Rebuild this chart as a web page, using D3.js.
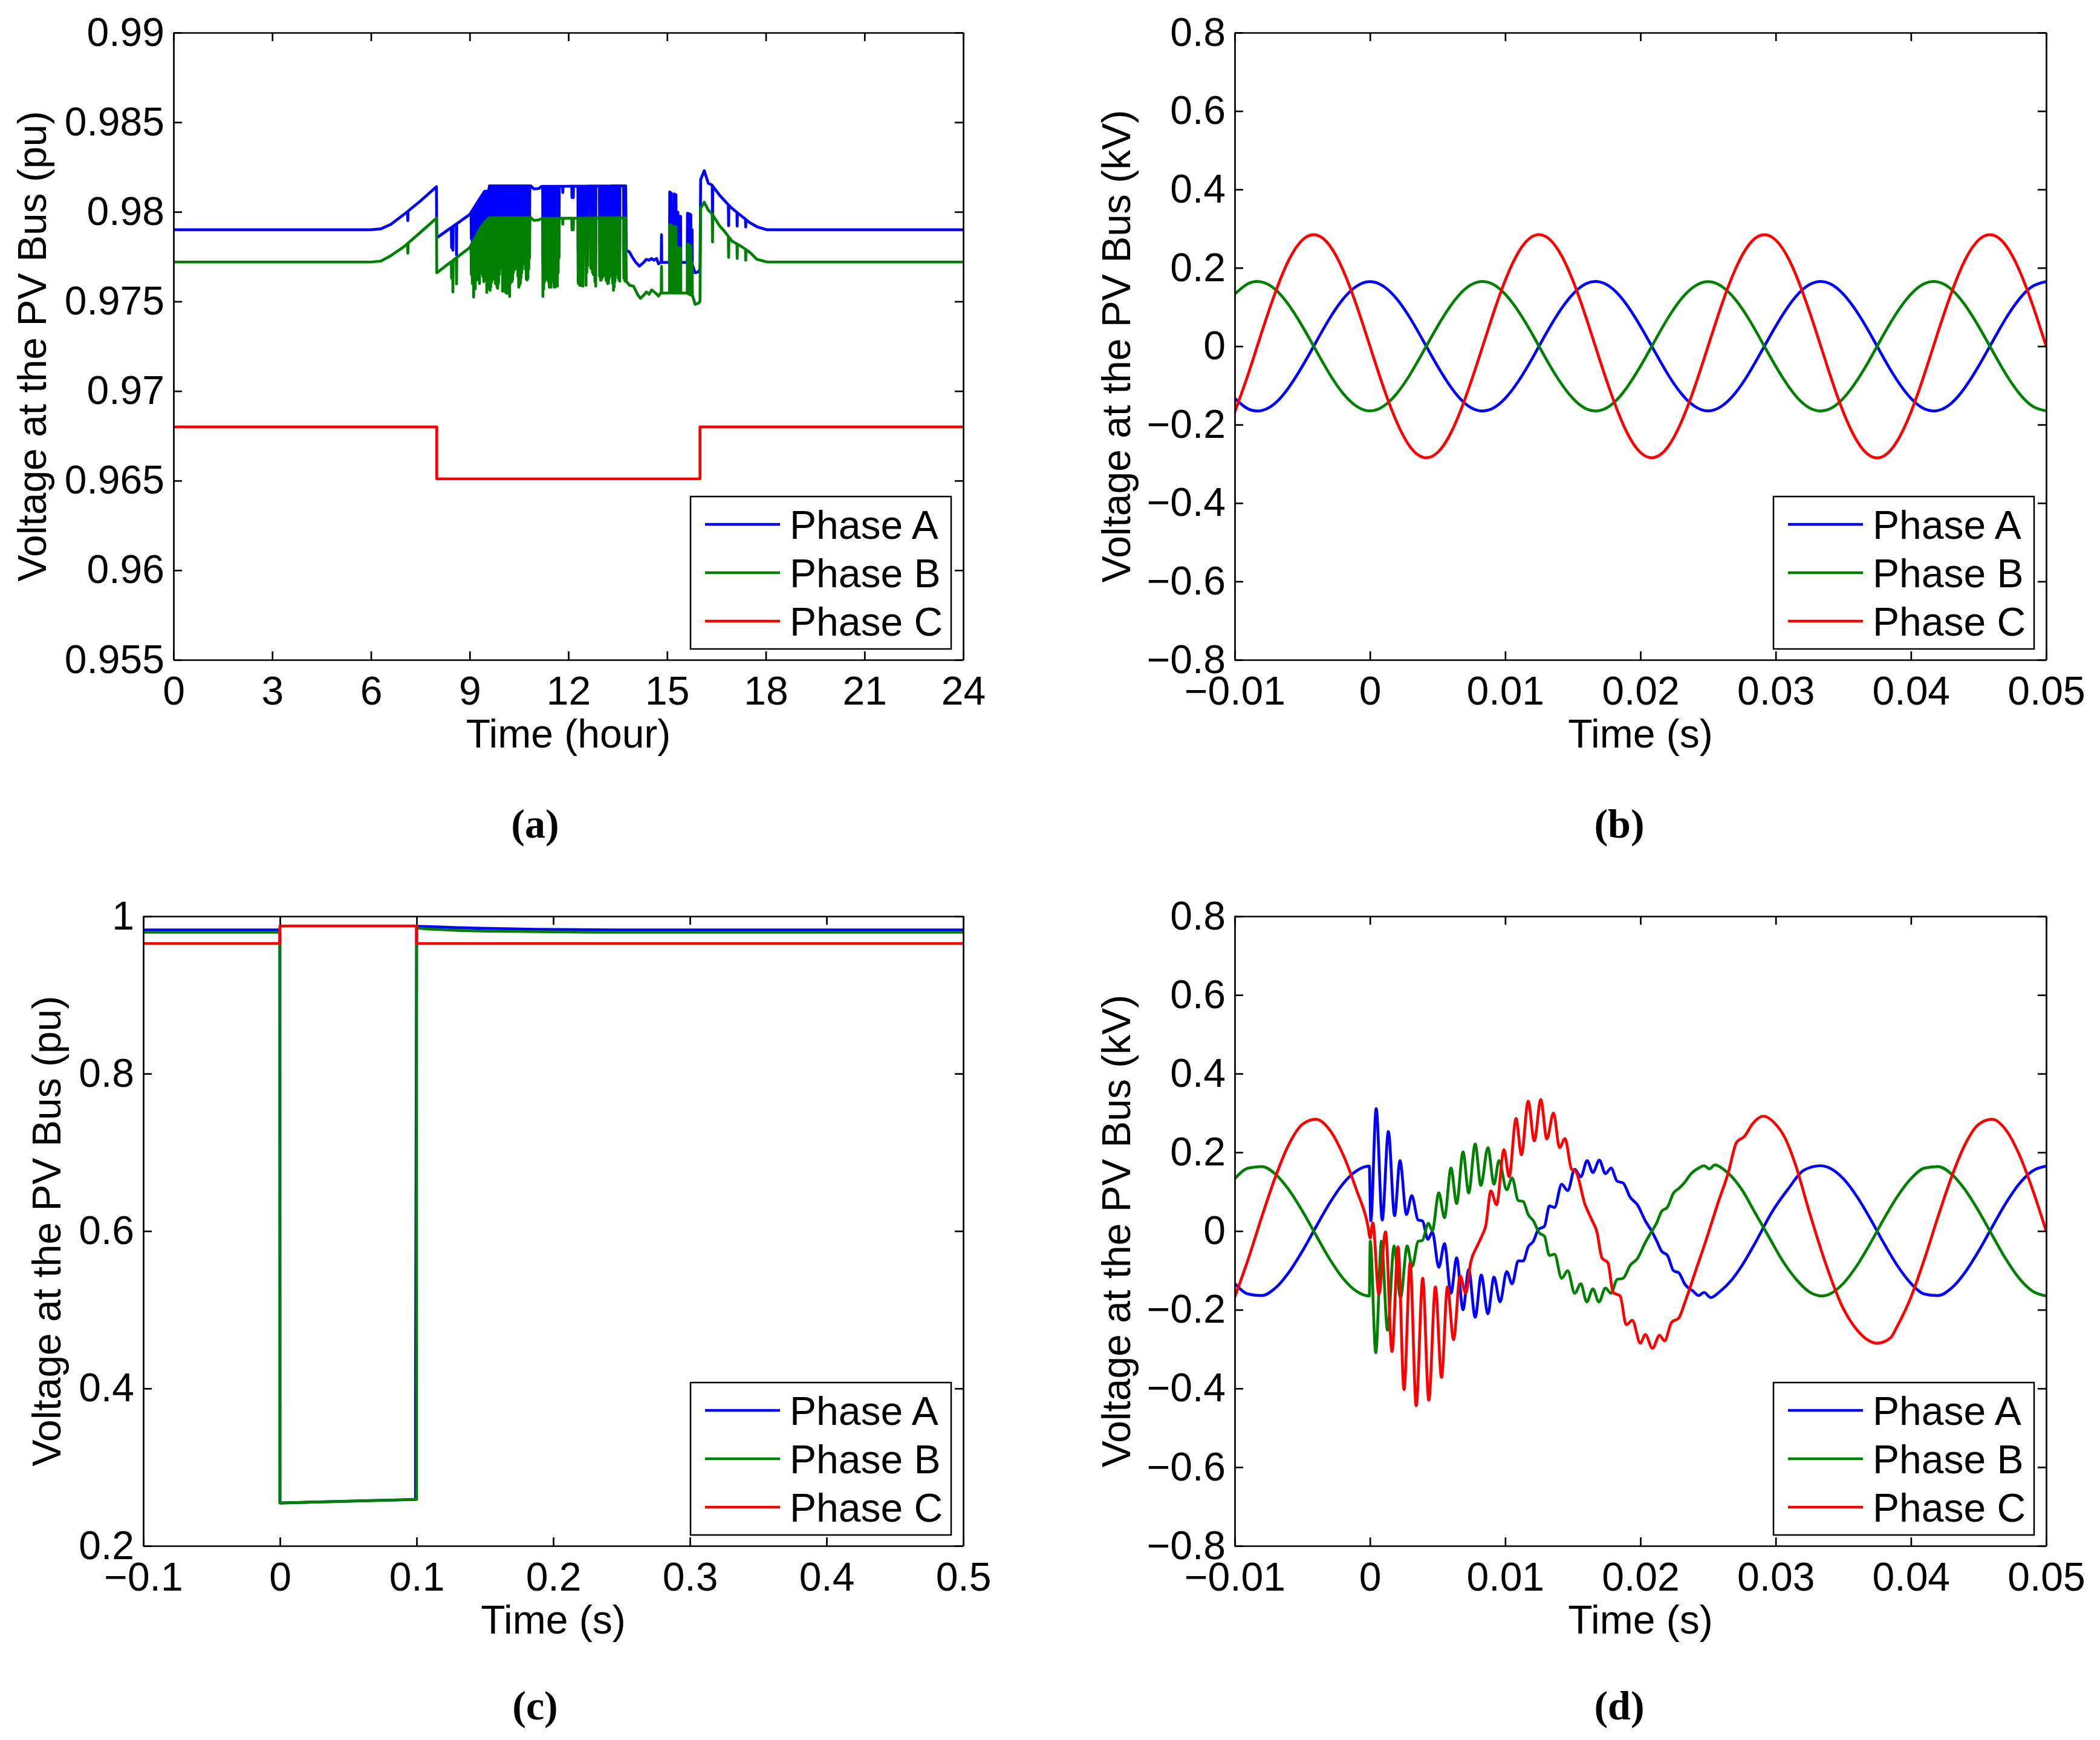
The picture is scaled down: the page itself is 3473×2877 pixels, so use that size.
<!DOCTYPE html>
<html>
<head>
<meta charset="utf-8">
<script src="https://cdn.jsdelivr.net/npm/d3@7"></script>
<style>
body { margin: 0; background: #fff; }
</style>
</head>
<body>
<script>
// ---------- (a) daily voltage, hours vs pu ----------
var hourTicks = [0, 3, 6, 9, 12, 15, 18, 21, 24];
var hourLabels = ["0", "3", "6", "9", "12", "15", "18", "21", "24"];
var puTicksA = [0.955, 0.96, 0.965, 0.97, 0.975, 0.98, 0.985, 0.99];
var puLabelsA = ["0.955", "0.96", "0.965", "0.97", "0.975", "0.98", "0.985", "0.99"];

// smooth part of each phase [hour, pu]
var dayBaseA = [[0,0.979],[6.0,0.979],[6.3,0.97905],[6.6,0.9793],[7.0,0.97985],[7.5,0.9806],[7.99,0.9814],
  [8.0,0.97855],[8.5,0.9792],[9.0,0.97985],[9.33,0.9808],[9.45,0.98114],[9.58,0.98118],[9.6,0.98145],
  [10.86,0.98145],[10.95,0.98128],[11.1,0.9813],[11.19,0.98142],[13.74,0.98145],[13.76,0.97787],
  [13.86,0.97775],[13.92,0.97754],[14.04,0.9772],[14.16,0.97697],[14.29,0.97718],[14.37,0.97735],
  [14.45,0.9773],[14.53,0.9774],[14.6,0.9773],[14.68,0.9774],[14.74,0.9771],[14.8,0.97718],[15.6,0.97718],
  [15.78,0.977],[15.85,0.9766],[15.95,0.97665],[16.0,0.9768],[16.02,0.9818],[16.13,0.9823],[16.25,0.9816],
  [16.36,0.9815],[16.59,0.98094],[16.82,0.98048],[16.97,0.9802],[17.24,0.9798],[17.51,0.9794],
  [17.73,0.97917],[18.04,0.979],[24,0.979]];
var dayBaseB = [[0,0.9772],[6.0,0.9772],[6.3,0.97725],[6.6,0.97755],[7.0,0.97805],[7.5,0.97885],[7.99,0.97965],
  [8.0,0.9766],[8.5,0.9773],[9.0,0.978],[9.33,0.9791],[9.45,0.9794],[9.6,0.97967],[10.86,0.97967],
  [10.95,0.97952],[11.1,0.97955],[11.19,0.97963],[13.74,0.97967],[13.76,0.97613],[13.86,0.9759],
  [13.98,0.97585],[14.1,0.9754],[14.19,0.97517],[14.29,0.97535],[14.37,0.97553],[14.45,0.9754],
  [14.53,0.97564],[14.65,0.97547],[14.74,0.9753],[14.8,0.97547],[15.6,0.97547],[15.78,0.9753],
  [15.85,0.97484],[15.95,0.9749],[16.0,0.975],[16.02,0.9802],[16.13,0.98054],[16.25,0.9801],
  [16.36,0.97991],[16.59,0.97923],[16.75,0.9789],[16.97,0.97837],[17.24,0.97809],[17.51,0.97775],
  [17.73,0.97735],[18.04,0.9772],[24,0.9772]];
var dayBaseC = [[0,0.968],[8.0,0.968],[8.0,0.9651],[16.0,0.9651],[16.0,0.968],[24,0.968]];

// short cloud spikes: [hour, phase A pu, phase B pu]
var daySpikes = [[7.12,0.97951,0.97769],
  [8.45,0.978,0.9763],[8.49,0.97786,0.97553],[8.6,0.9776,0.97598],[9.05,0.9785,0.9765],[9.08,0.9779,0.976],
  [9.12,0.9777,0.97524],[9.17,0.978,0.9757],[9.22,0.9783,0.9762],[9.27,0.9786,0.9766],[9.3,0.9782,0.976],
  [9.35,0.9786,0.9766],[9.4,0.9785,0.9764],[9.43,0.9783,0.9761],[9.47,0.9784,0.9762],[9.52,0.9781,0.9755],
  [9.56,0.9782,0.9757],
  [9.62,0.9774,0.97562],[9.64,0.9776,0.9758],[9.665,0.9779,0.97607],[9.687,0.978,0.9762],[9.71,0.9781,0.9763],
  [9.733,0.9782,0.9765],[9.756,0.9784,0.97658],[9.78,0.978,0.976],[9.805,0.9778,0.97596],[9.83,0.9777,0.9758],
  [9.854,0.9776,0.97573],[9.878,0.9779,0.976],[9.903,0.9783,0.97652],[9.925,0.9786,0.9768],[10.0,0.9774,0.97557],
  [10.022,0.9775,0.9756],[10.044,0.9778,0.976],[10.065,0.9776,0.9758],[10.087,0.9773,0.97551],[10.108,0.9774,0.9755],
  [10.13,0.9772,0.97545],[10.15,0.9775,0.9756],[10.17,0.9778,0.976],[10.193,0.9776,0.9757],[10.215,0.9771,0.97528],
  [10.236,0.9778,0.976],[10.258,0.978,0.97618],[10.282,0.9779,0.9761],[10.307,0.978,0.97624],[10.33,0.9783,0.9766],
  [10.356,0.9785,0.97675],[10.378,0.9786,0.9768],[10.4,0.9787,0.97686],[10.42,0.9788,0.977],[10.44,0.9789,0.97708],
  [10.465,0.9782,0.9764],[10.49,0.9776,0.97579],[10.515,0.9777,0.9759],[10.54,0.9778,0.97602],[10.56,0.9781,0.9763],
  [10.58,0.9784,0.97658],[10.6,0.9786,0.9768],[10.625,0.9789,0.97708],[10.65,0.979,0.9772],[10.675,0.9792,0.97742],
  [10.697,0.9786,0.9768],[10.72,0.978,0.97624],[10.745,0.978,0.9762],[10.77,0.9781,0.9763],[10.795,0.9786,0.9768],
  [10.82,0.9792,0.97742],
  [11.226,0.9771,0.97528],[11.25,0.9775,0.9757],[11.275,0.9779,0.97607],[11.297,0.9779,0.9762],[11.32,0.978,0.97624],
  [11.345,0.978,0.9763],[11.37,0.9781,0.97635],[11.395,0.9779,0.9761],[11.42,0.9776,0.97579],[11.445,0.9776,0.9758],
  [11.47,0.9777,0.9758],[11.495,0.978,0.9762],[11.52,0.9782,0.9764],[11.545,0.9779,0.9761],[11.57,0.9776,0.97579],
  [11.595,0.9776,0.9758],[11.62,0.9777,0.9759],[11.643,0.9777,0.9759],[11.666,0.9776,0.97585],[11.69,0.9785,0.9766],
  [11.715,0.9792,0.97742],
  [11.83,0.98108,0.97931],[12.11,0.9808,0.979],[12.15,0.9808,0.979],
  [12.297,0.9778,0.97602],[12.318,0.9777,0.976],[12.34,0.9777,0.9759],[12.365,0.9778,0.9759],[12.39,0.9778,0.97597],
  [12.415,0.9777,0.9759],[12.44,0.9777,0.97585],[12.535,0.9777,0.9759],[12.56,0.9784,0.9766],[12.584,0.9788,0.97697],
  [12.68,0.9787,0.97686],[12.705,0.9786,0.9768],[12.73,0.9785,0.97663],[12.755,0.9784,0.9765],[12.78,0.9784,0.9765],
  [12.805,0.978,0.9761],[12.83,0.9777,0.97585],[12.95,0.9782,0.9764],[12.976,0.978,0.97618],[13.0,0.978,0.9762],
  [13.025,0.9781,0.9763],[13.048,0.9782,0.9764],[13.07,0.9783,0.9765],[13.095,0.9783,0.9765],[13.12,0.9783,0.97645],
  [13.145,0.978,0.9762],[13.17,0.9779,0.9761],[13.195,0.9778,0.976],[13.22,0.9778,0.97602],[13.245,0.9781,0.9763],
  [13.27,0.9784,0.9765],[13.295,0.9784,0.9765],[13.32,0.9783,0.97645],[13.345,0.9778,0.976],[13.37,0.9774,0.97562],
  [13.393,0.9776,0.9758],[13.417,0.9779,0.9761],[13.44,0.9784,0.9766],[13.466,0.9787,0.97686],[13.49,0.9783,0.9765],
  [13.515,0.9781,0.9763],[13.537,0.978,0.9762],[13.56,0.9779,0.97613],[13.686,0.97787,0.9763],[13.705,0.9781,0.9762],
  [13.725,0.9779,0.97613],
  [14.83,0.97872,0.97695],[15.08,0.98111,0.97928],[15.13,0.98105,0.97925],[15.22,0.981,0.9792],[15.27,0.98095,0.97915],
  [15.33,0.97998,0.97803],[15.41,0.97975,0.97798],[15.62,0.97992,0.9782],[15.67,0.9799,0.97818],[15.72,0.97985,0.9781],
  [15.76,0.979,0.9772],[16.38,0.97914,0.97832],[16.87,0.97923,0.97746],[17.13,0.9792,0.9774],[17.39,0.97915,0.9773]];

// ---------- (b) steady waveform, ms vs kV (one sample per ms from -10 to 50) ----------
var waveTicks = [-0.01, 0, 0.01, 0.02, 0.03, 0.04, 0.05];
var waveLabels = ["\u22120.01", "0", "0.01", "0.02", "0.03", "0.04", "0.05"];
var kvTicks = [-0.8, -0.6, -0.4, -0.2, 0, 0.2, 0.4, 0.6, 0.8];
var kvLabels = ["\u22120.8", "\u22120.6", "\u22120.4", "\u22120.2", "0", "0.2", "0.4", "0.6", "0.8"];
var steadyMs = d3.range(-10, 51);
var steadyA = [-0.133,-0.160,-0.164,-0.145,-0.105,-0.051,0.010,0.070,0.120,0.153,0.165,
  0.153,0.120,0.070,0.010,-0.051,-0.105,-0.145,-0.164,-0.160,-0.133,-0.088,-0.031,0.031,0.088,0.133,0.160,0.164,0.145,0.105,0.051,-0.010,-0.070,-0.120,-0.153,-0.165,
  -0.153,-0.120,-0.070,-0.010,0.051,0.105,0.145,0.164,0.160,0.133,0.088,0.031,-0.031,-0.088,-0.133,-0.160,-0.164,-0.145,-0.105,-0.051,0.010,0.070,0.120,0.153,0.165];
var steadyB = [0.133,0.160,0.164,0.145,0.105,0.051,-0.010,-0.070,-0.120,-0.153,-0.165,
  -0.153,-0.120,-0.070,-0.010,0.051,0.105,0.145,0.164,0.160,0.133,0.088,0.031,-0.031,-0.088,-0.133,-0.160,-0.164,-0.145,-0.105,-0.051,0.010,0.070,0.120,0.153,0.165,
  0.153,0.120,0.070,0.010,-0.051,-0.105,-0.145,-0.164,-0.160,-0.133,-0.088,-0.031,0.031,0.088,0.133,0.160,0.164,0.145,0.105,0.051,-0.010,-0.070,-0.120,-0.153,-0.165];
var steadyC = [-0.168,-0.071,0.036,0.137,0.220,0.271,0.284,0.258,0.195,0.105,0.000,
  -0.105,-0.195,-0.258,-0.284,-0.271,-0.220,-0.137,-0.036,0.071,0.168,0.241,0.280,0.280,0.241,0.168,0.071,-0.036,-0.137,-0.220,-0.271,-0.284,-0.258,-0.195,-0.105,0.000,
  0.105,0.195,0.258,0.284,0.271,0.220,0.137,0.036,-0.071,-0.168,-0.241,-0.280,-0.280,-0.241,-0.168,-0.071,0.036,0.137,0.220,0.271,0.284,0.258,0.195,0.105,0.000];

// ---------- (c) fault, seconds vs pu ----------
var faultTicks = [-0.1, 0, 0.1, 0.2, 0.3, 0.4, 0.5];
var faultLabels = ["\u22120.1", "0", "0.1", "0.2", "0.3", "0.4", "0.5"];
var puTicksC = [0.2, 0.4, 0.6, 0.8, 1];
var puLabelsC = ["0.2", "0.4", "0.6", "0.8", "1"];
var faultA = [[-0.1,0.9826],[-0.0001,0.9826],[0,0.2545],[0.0992,0.259],[0.0992,0.396],[0.1,0.9872],[0.115,0.9864],
  [0.127,0.9857],[0.143,0.9849],[0.165,0.9841],[0.187,0.9834],[0.248,0.9826],[0.5,0.9826]];
var faultB = [[-0.1,0.9798],[0,0.9798],[0,0.2545],[0.1,0.259],[0.1,0.9852],[0.107,0.9839],[0.119,0.9829],
  [0.134,0.9818],[0.152,0.9811],[0.179,0.9806],[0.229,0.9798],[0.5,0.9798]];
var faultC = [[-0.1,0.9654],[0,0.9654],[0,0.9877],[0.1,0.9877],[0.1,0.9654],[0.5,0.9654]];

// ---------- (d) transient waveform, [ms, kV] ----------
var transA = [[-10,-0.133],[-9,-0.160],[-8,-0.164],[-7,-0.145],[-6,-0.105],[-5,-0.051],[-4,0.010],[-3,0.070],[-2,0.120],[-1,0.153],[-0.05,0.165],
  [0.06,0.026],[0.46,0.311],[0.91,0.028],[1.36,0.253],[1.82,0.039],[2.22,0.179],[2.70,0.042],[3.09,0.090],[3.57,0.028],[3.87,0.026],
  [4.29,-0.021],[4.61,-0.002],[5.09,-0.092],[5.51,-0.032],[5.99,-0.158],[6.41,-0.068],[6.88,-0.200],[7.30,-0.098],[7.78,-0.219],
  [8.23,-0.112],[8.72,-0.210],[9.17,-0.117],[9.62,-0.180],[10.11,-0.103],[10.51,-0.134],[10.96,-0.076],[11.33,-0.076],[11.7,-0.040],
  [12.08,-0.026],[12.45,0.004],[12.9,0.012],[13.27,0.064],[13.65,0.060],[14.17,0.119],[14.62,0.103],[15.14,0.157],[15.59,0.138],
  [16.06,0.179],[16.48,0.149],[16.96,0.180],[17.41,0.146],[17.83,0.160],[18.27,0.127],[18.72,0.122],[19.24,0.086],[19.77,0.067],
  [20.36,0.026],[20.81,0.001],[21.19,-0.024],[21.56,-0.051],[22.0,-0.062],[22.45,-0.101],[22.83,-0.106],[23.3,-0.136],[23.9,-0.153],
  [24.3,-0.164],[24.7,-0.156],[25.2,-0.169],[25.9,-0.153],[26.7,-0.126],[27.5,-0.088],[28.5,-0.029],[29.7,0.047],[30.9,0.106],
  [32.1,0.155],[33.3,0.166],[34,0.160],[35,0.133],[36,0.088],[37,0.031],[38,-0.031],[39,-0.088],[40,-0.133],[41,-0.160],[42,-0.164],
  [43,-0.145],[44,-0.105],[45,-0.051],[46,0.010],[47,0.070],[48,0.120],[49,0.153],[50,0.165]];
var transB = [[-10,0.133],[-9,0.160],[-8,0.164],[-7,0.145],[-6,0.105],[-5,0.051],[-4,-0.010],[-3,-0.070],[-2,-0.120],[-1,-0.153],[-0.05,-0.165],
  [0.02,-0.026],[0.43,-0.309],[0.85,-0.026],[1.30,-0.252],[1.78,-0.038],[2.26,-0.169],[2.75,-0.038],[3.12,-0.090],[3.57,-0.026],[3.87,-0.024],
  [4.32,0.020],[4.61,0.001],[5.09,0.097],[5.51,0.034],[5.99,0.160],[6.41,0.070],[6.88,0.201],[7.30,0.097],[7.78,0.221],[8.20,0.116],
  [8.72,0.212],[9.17,0.119],[9.54,0.179],[10.11,0.105],[10.51,0.135],[10.96,0.078],[11.33,0.075],[11.7,0.042],[12.08,0.026],
  [12.53,-0.005],[12.9,-0.013],[13.27,-0.062],[13.65,-0.059],[14.17,-0.120],[14.62,-0.101],[15.14,-0.158],[15.59,-0.134],
  [16.03,-0.180],[16.48,-0.147],[16.93,-0.180],[17.41,-0.145],[17.83,-0.158],[18.27,-0.123],[18.72,-0.120],[19.24,-0.087],
  [19.77,-0.070],[20.36,-0.029],[20.81,-0.002],[21.19,0.020],[21.56,0.050],[22.0,0.061],[22.45,0.097],[22.83,0.108],[23.3,0.125],
  [23.7,0.144],[24.3,0.160],[24.7,0.166],[25.1,0.158],[25.5,0.168],[26.1,0.158],[26.7,0.140],[27.5,0.105],[28.5,0.045],[29.5,-0.015],
  [30.5,-0.075],[31.5,-0.122],[32.5,-0.155],[33.4,-0.165],[34,-0.160],[35,-0.133],[36,-0.088],[37,-0.031],[38,0.031],[39,0.088],
  [40,0.133],[41,0.160],[42,0.164],[43,0.145],[44,0.105],[45,0.051],[46,-0.010],[47,-0.070],[48,-0.120],[49,-0.153],[50,-0.165]];
var transC = [[-10,-0.168],[-9,-0.071],[-8,0.036],[-7,0.137],[-6,0.220],[-5,0.271],[-4,0.284],[-3,0.258],[-2,0.195],[-1,0.105],[-0.16,0.015],
  [0.02,-0.018],[0.21,0.021],[0.66,-0.161],[1.15,-0.002],[1.63,-0.306],[2.08,-0.040],[2.52,-0.403],[2.97,-0.081],[3.42,-0.444],
  [3.90,-0.120],[4.35,-0.430],[4.84,-0.142],[5.29,-0.372],[5.73,-0.142],[6.18,-0.276],[6.67,-0.114],[7.08,-0.158],[7.45,-0.079],
  [7.90,-0.040],[8.27,-0.013],[8.57,0.015],[8.94,0.102],[9.36,0.067],[9.91,0.207],[10.29,0.138],[10.80,0.286],[11.2,0.194],
  [11.70,0.330],[12.15,0.229],[12.63,0.334],[13.08,0.234],[13.57,0.300],[14.02,0.212],[14.42,0.235],[14.91,0.157],[15.21,0.152],
  [15.88,0.070],[16.41,0.028],[16.78,-0.002],[17.15,-0.068],[17.60,-0.081],[17.98,-0.156],[18.5,-0.165],[18.95,-0.238],[19.4,-0.227],
  [19.99,-0.285],[20.36,-0.263],[20.89,-0.298],[21.41,-0.265],[21.78,-0.279],[22.3,-0.232],[22.83,-0.221],[23.3,-0.180],[24.1,-0.099],
  [24.9,-0.018],[25.7,0.068],[26.5,0.149],[27.1,0.225],[27.7,0.241],[28.3,0.273],[29.1,0.292],[29.9,0.275],[30.7,0.236],[31.5,0.165],
  [32.5,0.047],[33.7,-0.083],[34.9,-0.190],[36.1,-0.255],[37.5,-0.285],[38.5,-0.271],[39,-0.241],[40,-0.168],[41,-0.071],[42,0.036],
  [43,0.137],[44,0.220],[45,0.271],[46,0.284],[47,0.258],[48,0.195],[49,0.105],[50,0.000]];

var phaseNames = ["Phase A", "Phase B", "Phase C"];
var phaseColors = ["#0000ff", "#008000", "#ff0000"];

// ---------- helpers ----------
var font = "Liberation Sans, Arial, Helvetica, sans-serif";
var fontSize = 66;

function withSpikes(base, spikes, col) {
  var top = d3.scaleLinear().domain(base.map(function (d) { return d[0]; }))
                            .range(base.map(function (d) { return d[1]; }));
  var pts = base.slice();
  spikes.forEach(function (s) {
    pts.push([s[0] - 0.008, top(s[0] - 0.008)], [s[0], s[col]], [s[0] + 0.008, top(s[0] + 0.008)]);
  });
  pts.sort(function (a, b) { return a[0] - b[0]; });
  return pts;
}
function msPairs(ms, vals) { return ms.map(function (t, i) { return [t / 1000, vals[i]]; }); }
function msToSec(pairs) { return pairs.map(function (d) { return [d[0] / 1000, d[1]]; }); }

var svg = d3.select("body").append("svg")
            .attr("width", 3473)
            .attr("height", 2877)
            .style("background", "#fff");

function drawPanel(p) {
  var w = p.right - p.left, h = p.bottom - p.top;
  var x = d3.scaleLinear().domain(p.xDomain).range([0, w]);
  var y = d3.scaleLinear().domain(p.yDomain).range([h, 0]);
  var g = svg.append("g").attr("transform", "translate(" + p.left + "," + p.top + ")");

  g.append("clipPath").attr("id", "clip-" + p.key)
   .append("rect").attr("width", w).attr("height", h);

  var line = d3.line()
               .x(function (d) { return x(d[0]); })
               .y(function (d) { return y(d[1]); })
               .curve(p.curve);
  g.append("g").attr("clip-path", "url(#clip-" + p.key + ")")
   .selectAll("path").data(p.series).enter().append("path")
   .attr("d", line)
   .attr("fill", "none")
   .attr("stroke", function (d, i) { return phaseColors[i]; })
   .attr("stroke-width", 4.7)
   .attr("stroke-linejoin", "round");

  var tick = 14;
  g.append("g").attr("transform", "translate(0," + h + ")")
   .call(d3.axisBottom(x).tickValues(p.xTicks).tickFormat(function (d, i) { return p.xLabels[i]; })
           .tickSizeInner(-tick).tickSizeOuter(0).tickPadding(27));
  g.append("g")
   .call(d3.axisTop(x).tickValues(p.xTicks).tickFormat("").tickSizeInner(-tick).tickSizeOuter(0));
  g.append("g")
   .call(d3.axisLeft(y).tickValues(p.yTicks).tickFormat(function (d, i) { return p.yLabels[i]; })
           .tickSizeInner(-tick).tickSizeOuter(0).tickPadding(15));
  g.append("g").attr("transform", "translate(" + w + ",0)")
   .call(d3.axisRight(y).tickValues(p.yTicks).tickFormat("").tickSizeInner(-tick).tickSizeOuter(0));

  g.selectAll(".domain, .tick line").attr("stroke", "#000").attr("stroke-width", 2.7);
  g.selectAll(".tick text").attr("font-family", font).attr("font-size", fontSize).attr("fill", "#000");

  g.append("text")
   .attr("x", w / 2).attr("y", h + 145)
   .attr("text-anchor", "middle")
   .attr("font-family", font).attr("font-size", fontSize)
   .text(p.xTitle);
  g.append("text")
   .attr("transform", "translate(" + (p.yTitleX - p.left) + "," + (h / 2) + ") rotate(-90)")
   .attr("text-anchor", "middle")
   .attr("font-family", font).attr("font-size", fontSize)
   .text(p.yTitle);

  // legend, bottom right
  var lw = 431, lh = 252;
  var lg = g.append("g").attr("transform", "translate(" + (w - 20 - lw) + "," + (h - 18 - lh) + ")");
  lg.append("rect").attr("width", lw).attr("height", lh)
    .attr("fill", "#fff").attr("stroke", "#000").attr("stroke-width", 2.5);
  phaseNames.forEach(function (name, i) {
    var ry = 46 + i * 80;
    lg.append("line").attr("x1", 24).attr("x2", 148).attr("y1", ry).attr("y2", ry)
      .attr("stroke", phaseColors[i]).attr("stroke-width", 4.7);
    lg.append("text").attr("x", 164).attr("y", ry).attr("dy", "0.36em")
      .attr("font-family", font).attr("font-size", fontSize)
      .text(name);
  });

  svg.append("text")
     .attr("x", p.capX).attr("y", p.capY)
     .attr("text-anchor", "middle")
     .attr("font-family", "Liberation Serif, DejaVu Serif, serif")
     .attr("font-weight", "bold").attr("font-size", 68)
     .text("(" + p.key + ")");
}

drawPanel({
  key: "a", left: 287, right: 1593, top: 54, bottom: 1091,
  xDomain: [0, 24], yDomain: [0.955, 0.99],
  xTicks: hourTicks, xLabels: hourLabels, yTicks: puTicksA, yLabels: puLabelsA,
  series: [withSpikes(dayBaseA, daySpikes, 1), withSpikes(dayBaseB, daySpikes, 2), dayBaseC],
  curve: d3.curveLinear,
  xTitle: "Time (hour)", yTitle: "Voltage at the PV Bus (pu)", yTitleX: 76,
  capX: 885, capY: 1385
});
drawPanel({
  key: "b", left: 2042, right: 3384, top: 54, bottom: 1091,
  xDomain: [-0.01, 0.05], yDomain: [-0.8, 0.8],
  xTicks: waveTicks, xLabels: waveLabels, yTicks: kvTicks, yLabels: kvLabels,
  series: [msPairs(steadyMs, steadyA), msPairs(steadyMs, steadyB), msPairs(steadyMs, steadyC)],
  curve: d3.curveNatural,
  xTitle: "Time (s)", yTitle: "Voltage at the PV Bus (kV)", yTitleX: 1869,
  capX: 2678, capY: 1385
});
drawPanel({
  key: "c", left: 237, right: 1593, top: 1515, bottom: 2556,
  xDomain: [-0.1, 0.5], yDomain: [0.2, 1],
  xTicks: faultTicks, xLabels: faultLabels, yTicks: puTicksC, yLabels: puLabelsC,
  series: [faultA, faultB, faultC],
  curve: d3.curveLinear,
  xTitle: "Time (s)", yTitle: "Voltage at the PV Bus (pu)", yTitleX: 100,
  capX: 885, capY: 2843
});
drawPanel({
  key: "d", left: 2042, right: 3384, top: 1515, bottom: 2556,
  xDomain: [-0.01, 0.05], yDomain: [-0.8, 0.8],
  xTicks: waveTicks, xLabels: waveLabels, yTicks: kvTicks, yLabels: kvLabels,
  series: [msToSec(transA), msToSec(transB), msToSec(transC)],
  curve: d3.curveMonotoneX,
  xTitle: "Time (s)", yTitle: "Voltage at the PV Bus (kV)", yTitleX: 1869,
  capX: 2678, capY: 2843
});
</script>
</body>
</html>
